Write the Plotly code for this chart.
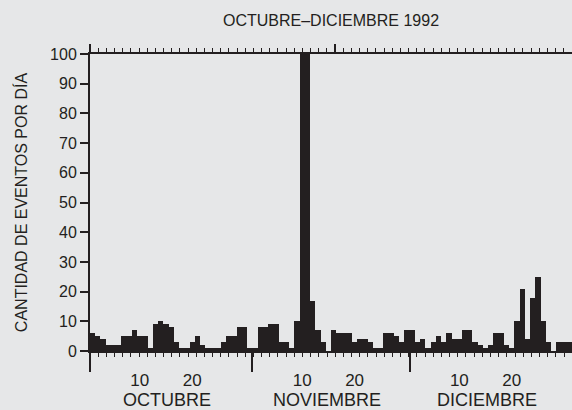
import plotly.graph_objects as go

# Daily event counts, 1 Oct - 31 Dec 1992
oct_counts = [6, 5, 4, 2, 2, 2, 5, 5, 7, 5, 5, 1, 9, 10, 9, 8, 3, 1, 1, 3, 5, 2, 1, 1, 1, 3, 5, 5, 8, 8, 1]
nov_counts = [1, 8, 8, 9, 9, 3, 3, 1, 10, 100, 100, 17, 7, 3, 0, 7, 6, 6, 6, 3, 4, 4, 3, 1, 1, 6, 6, 5, 3, 7]
dec_counts = [7, 3, 4, 1, 3, 5, 3, 6, 4, 4, 7, 7, 3, 2, 1, 2, 6, 6, 2, 1, 10, 21, 4, 18, 25, 10, 3, 0, 3, 3, 3]

month_names = ["OCTUBRE", "NOVIEMBRE", "DICIEMBRE"]
day_labels = ["10", "20"]
y_ticks = list(range(0, 101, 10))

months = [oct_counts, nov_counts, dec_counts]
counts = oct_counts + nov_counts + dec_counts
xs = [i + 0.5 for i in range(len(counts))]
month_starts = []
s = 0
for m in months:
    month_starts.append(s)
    s += len(m)
total_days = s

label_vals, label_text = [], []
for ms in month_starts:
    for d in day_labels:
        label_vals.append(ms + int(d) - 0.5)
        label_text.append(d)

INK = "#231f20"
BG = "#e6e7e8"
FONT = "Liberation Sans, Arial, sans-serif"

fig = go.Figure()
fig.add_bar(x=xs, y=counts, width=1, marker=dict(color=INK, line=dict(width=0)), showlegend=False)
# helper invisible traces so overlay axes are drawn
for ax in ["x2", "x3", "x4"]:
    fig.add_scatter(x=[0], y=[0], xaxis=ax, mode="markers", marker=dict(opacity=0),
                    showlegend=False, hoverinfo="skip")

fig.update_layout(
    width=572, height=410,
    margin=dict(l=90, r=0, t=54, b=59, autoexpand=False),
    paper_bgcolor=BG, plot_bgcolor=BG,
    bargap=0,
    font=dict(family=FONT, color=INK, size=16),
    title=dict(text="OCTUBRE–DICIEMBRE 1992", x=331/572, xanchor="center",
               y=1 - 20/410, yanchor="middle", yref="container", automargin=False,
               font=dict(size=16, color=INK, family=FONT)),
    xaxis=dict(range=[0, total_days], tickmode="array", tickvals=label_vals, ticktext=label_text,
               ticks="", showline=True, linecolor=INK, linewidth=2, showgrid=False, zeroline=False,
               tickfont=dict(size=17), ticklabelstandoff=13, automargin=False),
    xaxis3=dict(overlaying="x", anchor="y", side="bottom", range=[0, total_days],
                tickmode="array", tickvals=month_starts, ticks="outside", ticklen=20, tickwidth=1.5,
                tickcolor=INK, showticklabels=False, showline=False, showgrid=False, zeroline=False,
                automargin=False),
    xaxis4=dict(overlaying="x", anchor="y", side="bottom", range=[0, total_days],
                tickmode="linear", tick0=0, dtick=1.56, ticks="outside", ticklen=5, tickwidth=1,
                tickcolor=INK, showticklabels=False, showline=False, showgrid=False, zeroline=False,
                automargin=False),
    xaxis2=dict(overlaying="x", anchor="y", side="top", range=[0, 59], tickmode="linear", tick0=0, dtick=30,
                ticks="outside", ticklen=8, tickwidth=1.5, tickcolor=INK, showline=True, linecolor=INK,
                linewidth=2, showticklabels=False, showgrid=False, zeroline=False, automargin=False,
                minor=dict(ticks="outside", ticklen=4, tickwidth=1, tickcolor=INK, dtick=1, tick0=0, showgrid=False)),
    yaxis=dict(range=[0, 100], tickmode="array", tickvals=y_ticks, ticks="outside", ticklen=8,
               tickwidth=1.5, tickcolor=INK, showline=True, linecolor=INK, linewidth=2,
               showgrid=False, zeroline=False, tickfont=dict(size=16), automargin=False,
               title=dict(text="CANTIDAD DE EVENTOS POR DÍA", font=dict(size=16), standoff=18)),
)

for name, ms, m in zip(month_names, month_starts, months):
    fig.add_annotation(text=name, x=ms + len(m) / 2 - 0.8, xref="x", y=-0.165, yref="paper",
                       showarrow=False, yanchor="middle", xanchor="center",
                       font=dict(size=18, color=INK, family=FONT))

fig.write_html(
    "out.html",
    config={"displayModeBar": False},
    post_script="document.body.style.margin='0';document.body.style.overflow='hidden';"
                "document.body.style.background='#e6e7e8';",
)
